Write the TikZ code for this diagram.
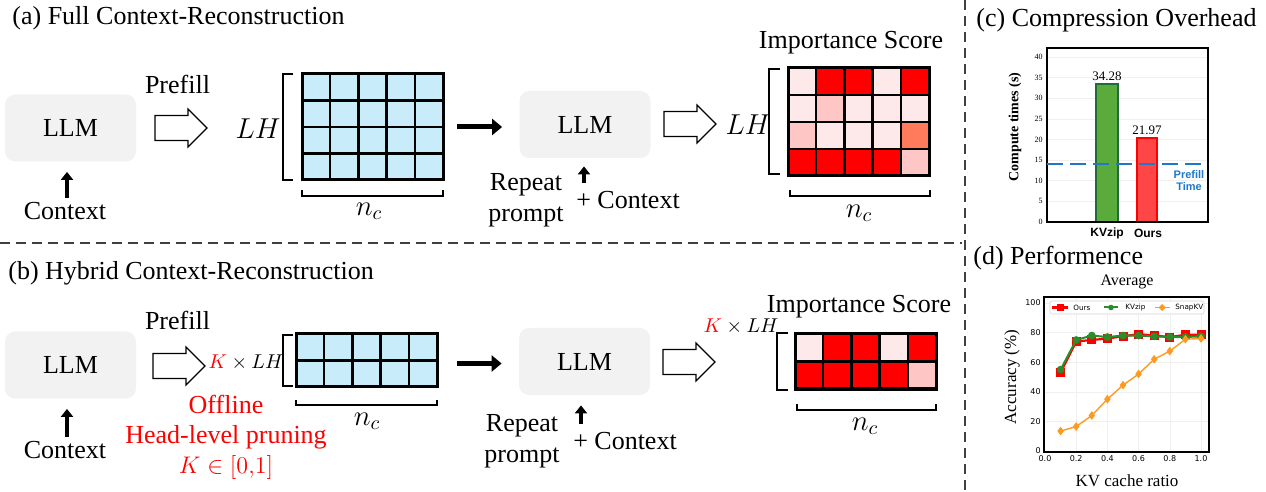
\documentclass[tikz,border=0pt]{standalone}
\usepackage{fontspec}
\setmainfont{Liberation Serif}
\setsansfont{Liberation Sans}
\newfontfamily\plotsans{DejaVu Sans}
\usetikzlibrary{arrows.meta,plotmarks,positioning}

\definecolor{llmgray}{HTML}{F2F2F2}
\definecolor{kvblue}{HTML}{C8ECFA}
\definecolor{lowred}{HTML}{FDE9E9}
\definecolor{midred}{HTML}{FFC6C6}
\definecolor{hotred}{HTML}{FF7B5C}
\definecolor{barGreen}{HTML}{5BAA3C}
\definecolor{barGreenEdge}{HTML}{1F6B3A}
\definecolor{barRed}{HTML}{FF4646}
\definecolor{prefillBlue}{HTML}{1F78C8}
\definecolor{kvzipGreen}{HTML}{2A8C2A}
\definecolor{snapOrange}{HTML}{FF9A1E}

\begin{document}
\begin{tikzpicture}[x=0.5pt,y=-0.5pt,
    lbl/.style={font=\fontsize{13}{15.5}\selectfont, inner sep=0pt},
    mlbl/.style={font=\fontsize{14.5}{16}\selectfont, inner sep=0pt},
    llm/.style={lbl, fill=llmgray, rounded corners=5pt, minimum width=65.5pt, minimum height=33.5pt},
    cell/.style={draw, line width=1.2pt},
    gridbox/.style={draw, line width=1.5pt, inner sep=0pt},
    brk/.style={draw, line width=0.6pt},
    hollow/.style={draw, fill=white, line width=0.6pt, line join=miter},
    fatarrow/.style={line width=2.5pt, -{Triangle[length=5pt,width=8pt]}},
    uparrow/.style={line width=1.8pt, -{Triangle[length=4pt,width=6pt]}},
    tick/.style={font=\fontsize{4}{5}\selectfont, inner sep=0pt},
    ptick/.style={font=\plotsans\fontsize{4}{5}\selectfont, inner sep=0pt},
    legtext/.style={font=\plotsans\fontsize{3.6}{4}\selectfont, inner sep=0pt, anchor=west},
    sep/.style={draw=black!75, line width=0.7pt, dash pattern=on 5pt off 3pt}]
\useasboundingbox (0,0) rectangle (1266,492);

% panel separators
\draw[sep] (0,243) -- (962,243);
\draw[sep] (965,0) -- (965,492);

% ---------- (a) full reconstruction ----------
\node[lbl, anchor=west] (titleA) at (12,18) {(a) Full Context-Reconstruction};
\node[llm] (llmA1) at (70.5,128) {LLM};
\node[lbl] (ctxA) at (65,211) {Context};
\draw[uparrow, shorten <=2pt, shorten >=5pt] (ctxA.north -| 67,0) -- (llmA1.south -| 67,0);
\node[lbl] (prefillA) at (177.5,84) {Prefill};
\node[mlbl] (lhA1) at (258,129) {$LH$};
\foreach \r in {0,...,3}
  \foreach \c in {0,...,4}
    \draw[cell, fill=kvblue] (302+\c*28.2,74+\r*26.5) rectangle ++(28.2,26.5);
\node[gridbox, minimum width=70.5pt, minimum height=53pt] (gridA) at (373,127) {};
\draw[brk] (293,74) -- (283,74) -- (283,180) -- (293,180);
\draw[brk] (302,190) -- (302,196) -- (443,196) -- (443,190);
\node[mlbl] (ncA1) at (369,211) {$n_c$};

\node[llm] (llmA2) at (585,124.5) {LLM};
\draw[fatarrow, shorten <=6pt, shorten >=8.5pt] (gridA.east) -- (gridA.east -| llmA2.west);
\node[lbl, align=center] (repA) at (526,200) {Repeat\\prompt};
\node[lbl] (ctxA2) at (628,200) {+ Context};
\coordinate (inA) at (584,183);
\draw[uparrow, shorten >=4pt] (inA) -- (inA |- llmA2.south);

\node[lbl] (scoreA) at (851,43) {Importance Score};
\node[mlbl] (lhA2) at (748,125) {$LH$};
\foreach \clr [count=\i from 0] in {lowred,red,red,lowred,red,
    lowred,midred,lowred,lowred,lowred,
    midred,lowred,lowred,lowred,hotred,
    red,red,red,red,midred}
  \draw[cell, fill=\clr] ({788+mod(\i,5)*28.2},{68+int(\i/5)*27}) rectangle ++(28.2,27);
\node[gridbox, minimum width=70.5pt, minimum height=54pt] (impA) at (858.5,122) {};
\draw[brk] (780,69) -- (769,69) -- (769,174) -- (780,174);
\draw[brk] (790,190) -- (790,196) -- (930,196) -- (930,190);
\node[mlbl] (ncA2) at (859,213) {$n_c$};

% ---------- (b) hybrid reconstruction ----------
\node[lbl, anchor=west] (titleB) at (8,273) {(b) Hybrid Context-Reconstruction};
\node[llm] (llmB1) at (70.5,365) {LLM};
\node[lbl] (ctxB) at (65,450) {Context};
\draw[uparrow, shorten <=2pt, shorten >=5pt] (ctxB.north -| 67,0) -- (llmB1.south -| 67,0);
\node[lbl] (prefillB) at (177.5,320) {Prefill};
\node[lbl, font=\fontsize{10}{11}\selectfont] (klhB1) at (246,362) {$\textcolor{red}{K}\times LH$};
\node[lbl, red, align=center, font=\fontsize{13}{15}\selectfont] (pruneB) at (226,437)
  {Offline\\Head-level pruning\\$K\in[0{,}1]$};
\foreach \r in {0,1}
  \foreach \c in {0,...,4}
    \draw[cell, fill=kvblue] (296+\c*28.2,334+\r*26.5) rectangle ++(28.2,26.5);
\node[gridbox, minimum width=70.5pt, minimum height=26.5pt] (gridB) at (367,360.5) {};
\draw[brk] (293,335) -- (283,335) -- (283,386) -- (293,386);
\draw[brk] (296,400) -- (296,405) -- (437,405) -- (437,400);
\node[mlbl] (ncB1) at (367,421) {$n_c$};

\node[llm] (llmB2) at (584.5,361.5) {LLM};
\draw[fatarrow, shorten <=9pt, shorten >=8.5pt] ([yshift=-1.5pt]gridB.east) -- ([yshift=-1.5pt]gridB.east -| llmB2.west);
\node[lbl, align=center] (repB) at (522,441) {Repeat\\prompt};
\node[lbl] (ctxB2) at (625,441) {+ Context};
\coordinate (inB) at (581,424);
\draw[uparrow, shorten >=5pt] (inB) -- (inB |- llmB2.south);

\node[lbl] (scoreB) at (859,307) {Importance Score};
\node[lbl, font=\fontsize{10}{11}\selectfont] (klhB2) at (741,327) {$\textcolor{red}{K}\times LH$};
\foreach \clr [count=\i from 0] in {lowred,red,red,lowred,red,
    red,red,red,red,midred}
  \draw[cell, fill=\clr] ({795+mod(\i,5)*28.2},{334+int(\i/5)*27.5}) rectangle ++(28.2,27.5);
\node[gridbox, minimum width=70.5pt, minimum height=27.5pt] (impB) at (865.5,361.5) {};
\draw[brk] (788,333) -- (777,333) -- (777,390) -- (788,390);
\draw[brk] (797,404) -- (797,410) -- (936,410) -- (936,404);
\node[mlbl] (ncB2) at (865,426) {$n_c$};

% hollow arrows for prefill / scoring
\foreach \x/\y in {155/128,664/124,153/366,663/362}
  \draw[hollow] (\x,\y-12.5) -- ++(33,0) -- ++(0,-6.5) -- (\x+52,\y)
    -- (\x+33,\y+19) -- ++(0,-6.5) -- (\x,\y+12.5) -- cycle;

% ---------- (c) compression overhead ----------
\node[lbl, anchor=west] (titleC) at (976,20) {(c) Compression Overhead};
\foreach \v in {5,10,...,40}
  \draw[gray!12, line width=0.3pt] (1047,{222-4.125*\v}) -- (1208,{222-4.125*\v});
\foreach \v in {0,5,...,40}
  \node[tick, anchor=east] (cy\v) at (1043,{222-4.125*\v}) {\v};
\draw[fill=barGreen, draw=barGreenEdge, line width=0.8pt] (1096,222) rectangle (1118,83.8);
\draw[fill=barRed, draw=red, line width=0.8pt] (1137,222) rectangle (1157,137.9);
\draw[line width=0.8pt] (1047,48) rectangle (1208,222);
\draw[prefillBlue, line width=1pt, dash pattern=on 8pt off 3.5pt] (1047,164) -- (1208,164);
\node[lbl, font=\fontsize{6.5}{7}\selectfont] (valKV) at (1107,76) {34.28};
\node[lbl, font=\fontsize{6.5}{7}\selectfont] (valOurs) at (1147,130) {21.97};
\node[lbl, prefillBlue, align=center, font=\sffamily\bfseries\fontsize{5.5}{6}\selectfont] (prefillT) at (1189,181) {Prefill\\Time};
\node[lbl, font=\sffamily\bfseries\fontsize{6}{7}\selectfont] (xKV) at (1107,233) {KVzip};
\node[lbl, font=\sffamily\bfseries\fontsize{6}{7}\selectfont] (xOurs) at (1148,233) {Ours};
\node[lbl, rotate=90, font=\bfseries\fontsize{7}{8}\selectfont] (yC) at (1015,127) {Compute times (s)};

% ---------- (d) performance ----------
\node[lbl, anchor=west] (titleD) at (973,258) {(d) Performence};
\node[lbl, font=\fontsize{8}{9}\selectfont] (avgT) at (1127,282) {Average};
\foreach \v in {20,40,...,100}
  \draw[gray!12, line width=0.3pt] (1044,{451-1.48*\v}) -- (1209,{451-1.48*\v});
\foreach \r in {0.2,0.4,...,1.0}
  \draw[gray!12, line width=0.3pt] ({1045+156*\r},297) -- ({1045+156*\r},452);
\foreach \v in {0,20,...,100}
  \node[ptick, anchor=east] (dy\v) at (1041,{451-1.48*\v}) {\v};
\foreach \r [count=\k] in {0.0,0.2,0.4,0.6,0.8,1.0}
  \node[ptick] (dx\k) at ({1045+156*\r},459) {\r};
\draw[line width=0.9pt] (1044,297) rectangle (1209,452);
\begin{scope}[shift={(1045,451)}, x=78pt, y=0.74pt]
  \draw[red, line width=1.1pt] plot[mark=square*, mark size=1.7pt, mark options={fill=red}] coordinates
    {(0.1,53) (0.2,74) (0.3,75) (0.4,76) (0.5,77.5) (0.6,79) (0.7,78) (0.8,77) (0.9,78.5) (1.0,78.5)};
  \draw[kvzipGreen, line width=1pt] plot[mark=*, mark size=1.4pt, mark options={fill=kvzipGreen}] coordinates
    {(0.1,55) (0.2,75) (0.3,78) (0.4,77) (0.5,78) (0.6,78) (0.7,77.5) (0.8,77) (0.9,77) (1.0,77.5)};
  \draw[snapOrange, line width=0.7pt] plot[mark=diamond*, mark size=1.6pt, mark options={fill=snapOrange}] coordinates
    {(0.1,13.5) (0.2,16.5) (0.3,24) (0.4,35) (0.5,44.5) (0.6,52) (0.7,62) (0.8,67.5) (0.9,75.5) (1.0,76)};
\end{scope}
% legend
\draw[fill=white, draw=gray!35, line width=0.3pt, rounded corners=1pt] (1050,301) rectangle (1204,314);
\draw[red, line width=1.1pt] (1052,307.5) -- (1068,307.5);
\fill[red] (1056.5,304) rectangle (1063.5,311);
\node[legtext] (legOurs) at (1073,307.5) {Ours};
\draw[kvzipGreen, line width=1pt] (1104,307.5) -- (1118,307.5);
\fill[kvzipGreen] (1111,307.5) circle (1.4pt);
\node[legtext] (legKV) at (1125,307.5) {KVzip};
\draw[snapOrange, line width=0.7pt] (1155,307.5) -- (1170,307.5);
\fill[snapOrange] (1162,304) -- (1165.5,307.5) -- (1162,311) -- (1158.5,307.5) -- cycle;
\node[legtext] (legSnap) at (1175,307.5) {SnapKV};
\node[lbl, rotate=90, font=\fontsize{8.5}{10}\selectfont] (yD) at (1012,377) {Accuracy (\%)};
\node[lbl, font=\fontsize{8.5}{10}\selectfont] (xD) at (1127,481) {KV cache ratio};
\end{tikzpicture}
\end{document}
